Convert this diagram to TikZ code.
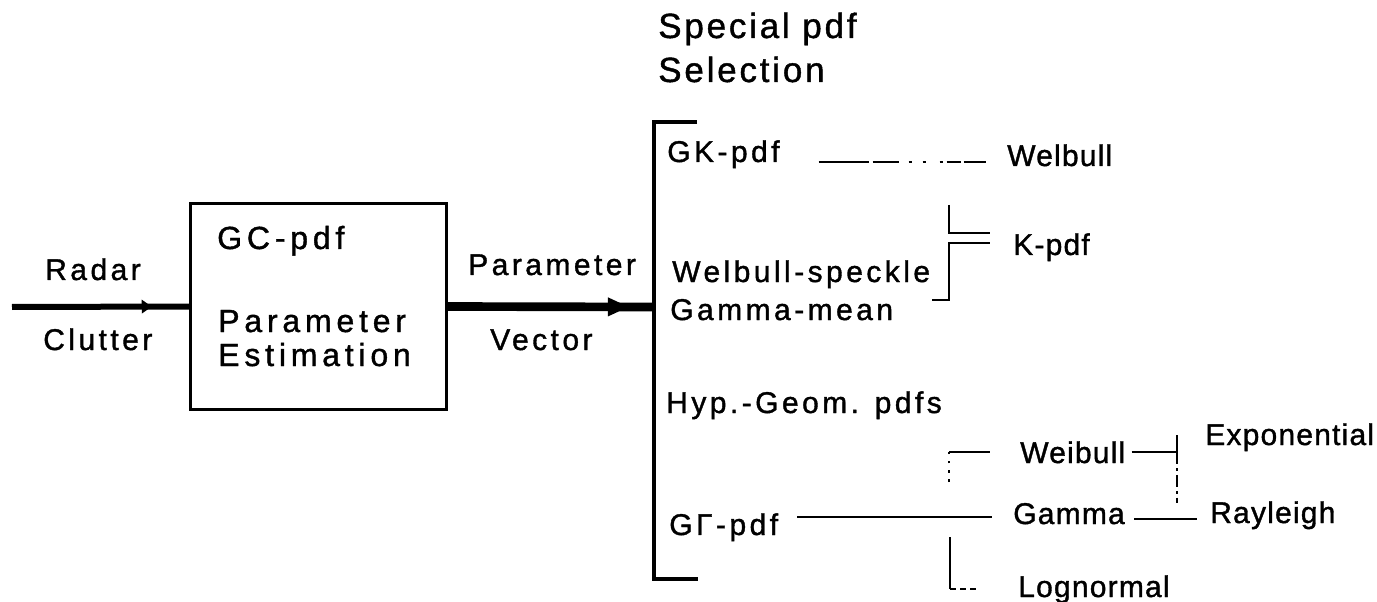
\documentclass[tikz,border=0pt]{standalone}
\usepackage{fontspec}
\setmainfont{Liberation Sans}
\newfontfamily\wideF[LetterSpace=11.5,FakeBold=1.2]{Liberation Sans}
\newfontfamily\narF[LetterSpace=4,FakeBold=1.2]{Liberation Sans}
\newfontfamily\boxF[LetterSpace=15,FakeBold=1.2]{Liberation Sans}
\newfontfamily\titF[LetterSpace=8,FakeBold=1.2]{Liberation Sans}
\usetikzlibrary{arrows.meta,decorations.markings}
\tikzset{
  wide/.style={font=\wideF\fontsize{22.5}{27}\selectfont, inner sep=0pt, anchor=base west},
  outl/.style={font=\narF\fontsize{22.5}{27}\selectfont, inner sep=0pt, anchor=base west},
  boxl/.style={font=\boxF\fontsize{24}{29}\selectfont, inner sep=0pt, anchor=base west},
  titl/.style={font=\titF\fontsize{26.25}{31}\selectfont, inner sep=0pt, anchor=base west},
  conn/.style={line width=1.6pt},
  blockbox/.style={draw, line width=2.4pt, minimum width=192pt, minimum height=154.5pt, inner sep=0pt},
  inarrow/.style={line width=4.5pt, postaction={decorate},
    decoration={markings, mark=at position 0.79 with {\arrow{Triangle[length=7.5pt,width=10pt]}}}},
  outarrow/.style={line width=6.5pt, postaction={decorate},
    decoration={markings, mark=at position 0.88 with {\arrow{Triangle[length=16pt,width=13pt]}}}},
  brk/.style={line width=2.4pt},
}
\begin{document}
\begin{tikzpicture}[x=0.75pt,y=-0.75pt]
\useasboundingbox (0,0) rectangle (1377,602);

% title
\node[titl] (t1) at (658,38) {Special pdf};
\node[titl] (t2) at (658,82) {Selection};

% input side
\coordinate (src) at (12,307);
\node[blockbox] (box) at (318.5,306.5) {};
\node[wide] (radar) at (45,280) {Radar};
\node[wide] (clutter) at (43,350) {Clutter};
\node[boxl] (gc) at (217,249) {GC-pdf};
\node[boxl] (par) at (218,332) {Parameter};
\node[boxl] (est) at (218,366) {Estimation};
\node[wide] (pv1) at (468,275) {Parameter};
\node[wide] (pv2) at (490,350) {Vector};

\draw[inarrow] (src) -- (box.west);

% bracket
\coordinate (btt) at (697,122);
\coordinate (bt) at (654,122);
\coordinate (bm) at (654,307);
\coordinate (bb) at (654,579);
\coordinate (bbt) at (698,579);
\draw[brk] (btt) -- (bt) -- (bb) -- (bbt);
\draw[outarrow] (box.east) -- (bm);

% left column of special pdfs
\node[wide] (gk) at (667,162) {GK-pdf};
\node[wide] (ws) at (672,282) {Welbull-speckle};
\node[wide] (gm) at (670,320) {Gamma-mean};
\node[wide] (hg) at (666,413) {Hyp.-Geom. pdfs};
\node[wide] (gg) at (669,535) {GΓ-pdf};

% outputs
\node[outl] (welb) at (1007,166) {Welbull};
\node[outl] (kpdf) at (1013,255) {K-pdf};
\node[outl] (wei) at (1020,463) {Weibull};
\node[outl] (gam) at (1013,524) {Gamma};
\node[outl] (logn) at (1018,597) {Lognormal};
\node[outl] (expo) at (1205,445) {Exponential};
\node[outl] (ray) at (1210,523) {Rayleigh};

% GK-pdf -> Welbull
\draw[conn, shorten <=29pt, shorten >=12.75pt,
  dash pattern=on 37.5pt off 3pt on 19.5pt off 7.5pt on 2.25pt off 8.25pt on 2.25pt off 10.5pt on 2.25pt off 3pt on 10.5pt off 2.25pt on 16.5pt]
  (gk.base east) -- (gk.base east -| welb.west);

% K-pdf bracket
\coordinate (k1) at (949,205);
\coordinate (k2) at (932,300);
\draw[conn, shorten >=17.25pt] (k1) |- ([yshift=10.5pt]kpdf.west);
\draw[conn, shorten >=17.25pt] (k2) -- ++(17,0) |- ([yshift=3pt]kpdf.west);

% G-Gamma -> Gamma
\draw[conn, shorten <=14.25pt, shorten >=15.75pt]
  ([yshift=-2.25pt]gg.east |- gam.west) -- ([yshift=-2.25pt]gam.west);

% Weibull branch
\coordinate (wb) at (949,482);
\draw[conn, dash pattern=on 2pt off 5pt] (wb) -- (wb |- wei.west);
\draw[conn, shorten >=22.5pt] (wb |- wei.west) -- (wei.west);

% Lognormal branch
\coordinate (lb) at (950,537);
\draw[conn] (lb) -- (lb |- logn.west);
\draw[conn, shorten >=30.75pt, dash pattern=on 4.5pt off 3pt] (lb |- logn.west) -- (logn.west);

% Weibull -> Exponential / Rayleigh
\coordinate (v1) at (1177,435);
\coordinate (v2) at (1177,503);
\draw[conn, shorten <=4.5pt] (wei.east) -- (wei.east -| v1);
\draw[conn] (v1) -- (wei.east -| v1);
\draw[conn, dash pattern=on 9pt off 3pt on 2pt off 3pt] (wei.east -| v1) -- (v2);

% Gamma -> Rayleigh
\draw[conn, shorten <=6.75pt, shorten >=9.75pt]
  ([yshift=-3.75pt]gam.east) -- ([yshift=-3.75pt]gam.east -| ray.west);
\end{tikzpicture}
\end{document}
